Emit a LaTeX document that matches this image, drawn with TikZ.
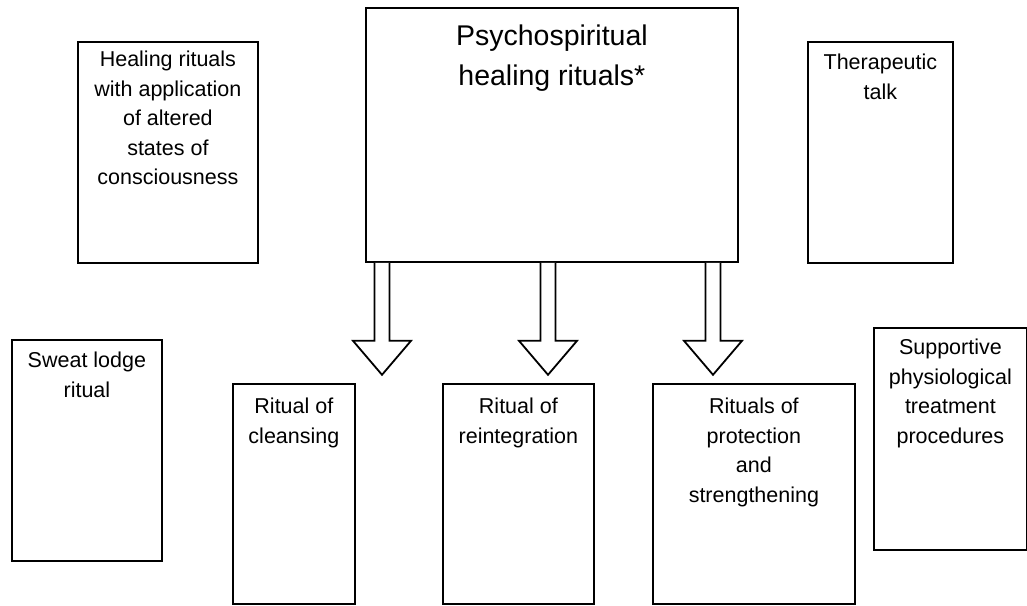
\documentclass[tikz,border=0pt]{standalone}
\usepackage{fontspec}
\setmainfont{Liberation Sans}
\usetikzlibrary{positioning,calc}

\begin{document}
\begin{tikzpicture}[x=1pt, y=-1pt,
  box/.style={draw, line width=1.8pt, inner sep=0pt, anchor=north west},
  lbl/.style={align=center, inner sep=0pt, font=\fontsize{21.5}{29.5}\selectfont},
  biglbl/.style={align=center, inner sep=0pt, font=\fontsize{28.5}{40}\selectfont},
  hollow/.style={draw, line width=1.8pt, line join=miter, fill=white}]
\useasboundingbox (0,0) rectangle (1027,605);
% Central box
\node[box, minimum width=372pt, minimum height=254pt] (psycho) at (365,7) {};
\node[biglbl, below=18pt of psycho.north] (psychotxt) {Psychospiritual\\healing rituals*};
% Upper side boxes
\node[box, minimum width=180pt, minimum height=221pt] (heal) at (77,41) {};
\node[lbl, below=10pt of heal.north] (healtxt) {Healing rituals\\with application\\of altered\\states of\\consciousness};
\node[box, minimum width=145pt, minimum height=221pt] (thera) at (807,41) {};
\node[lbl, below=13pt of thera.north] (theratxt) {Therapeutic\\talk};
% Lower side boxes
\node[box, minimum width=150pt, minimum height=221pt] (sweat) at (11,339) {};
\node[lbl, below=13pt of sweat.north] (sweattxt) {Sweat lodge\\ritual};
\node[box, minimum width=153pt, minimum height=222pt] (support) at (873,327) {};
\node[lbl, below=12pt of support.north] (supporttxt) {Supportive\\physiological\\treatment\\procedures};
% The three rituals
\node[box, minimum width=122pt, minimum height=220pt] (cleanse) at (232,383) {};
\node[lbl, below=15pt of cleanse.north] (cleansetxt) {Ritual of\\cleansing};
\node[box, minimum width=151pt, minimum height=220pt] (reint) at (442,383) {};
\node[lbl, below=15pt of reint.north] (reinttxt) {Ritual of\\reintegration};
\node[box, minimum width=202pt, minimum height=220pt] (protect) at (652,383) {};
\node[lbl, below=15pt of protect.north] (protecttxt) {Rituals of\\protection\\and\\strengthening};
% Hollow arrows out of the central box
\coordinate (topA) at ($(psycho.south west)+(17,0)$);
\coordinate (tipA) at ($(topA)+(0,112)$);
\draw[hollow] (topA) ++(-7.5,0) -- ++(0,78) -- ++(-21.5,0) -- (tipA)
  -- ++(29,-34) -- ++(-21.5,0) -- ++(0,-78);
\coordinate (topB) at ($(psycho.south west)+(183,0)$);
\coordinate (tipB) at ($(topB)+(0,112)$);
\draw[hollow] (topB) ++(-7.5,0) -- ++(0,78) -- ++(-21.5,0) -- (tipB)
  -- ++(29,-34) -- ++(-21.5,0) -- ++(0,-78);
\coordinate (topC) at ($(psycho.south west)+(348,0)$);
\coordinate (tipC) at ($(topC)+(0,112)$);
\draw[hollow] (topC) ++(-7.5,0) -- ++(0,78) -- ++(-21.5,0) -- (tipC)
  -- ++(29,-34) -- ++(-21.5,0) -- ++(0,-78);
\end{tikzpicture}
\end{document}
